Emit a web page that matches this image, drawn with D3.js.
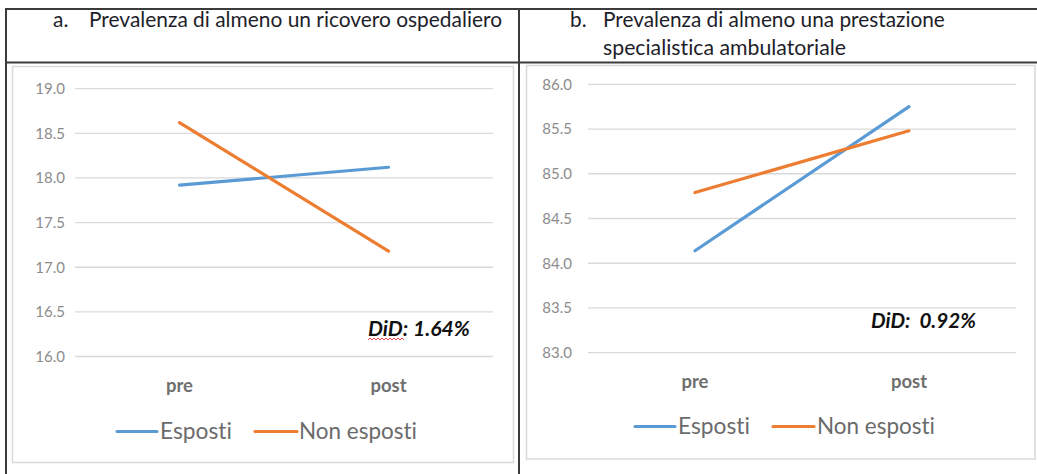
<!DOCTYPE html>
<html>
<head>
<meta charset="utf-8">
<script src="https://cdn.jsdelivr.net/npm/d3@7"></script>
<style>
  html, body { margin: 0; padding: 0; background: #fff; }
  svg { display: block; font-family: Lato, "Open Sans", sans-serif; font-variant-ligatures: none; }
</style>
</head>
<body>
<svg id="chart" width="1037" height="474"></svg>
<script>
// Categories and series
const categories = ["pre", "post"];
const seriesNames = ["Esposti", "Non esposti"];
const seriesColors = ["#5b9bd5", "#ed7d31"];

// a. hospital admissions (%)
const ricoveroEsposti = [17.92, 18.12];
const ricoveroNonEsposti = [18.62, 17.18];
const ricoveroTicks = [16.0, 16.5, 17.0, 17.5, 18.0, 18.5, 19.0];

// b. outpatient specialist services (%)
const ambulatorialeEsposti = [84.14, 85.75];
const ambulatorialeNonEsposti = [84.79, 85.48];
const ambulatorialeTicks = [83.0, 83.5, 84.0, 84.5, 85.0, 85.5, 86.0];

// Panel headings and difference-in-differences notes
const panelLetters = ["a.", "b."];
const panelTitles = [
  ["Prevalenza di almeno un ricovero ospedaliero"],
  ["Prevalenza di almeno una prestazione", "specialistica ambulatoriale"]
];
const didLabels = ["DiD: 1.64%", "DiD:  0.92%"];

const svg = d3.select("#chart");

// Scale a text element's font size so it spans the given width
function fitWidth(sel, w) {
  const node = sel.node();
  const size = parseFloat(sel.attr("font-size"));
  const cur = node.getComputedTextLength();
  if (cur > 0) sel.attr("font-size", (size * w / cur).toFixed(2));
  return sel;
}

// ---- table frame ----
const tableColor = "#3b3b3b";
const tbl = svg.append("g").attr("stroke", tableColor).attr("stroke-width", 2);
tbl.append("line").attr("x1", 5).attr("x2", 1037).attr("y1", 9).attr("y2", 9);
tbl.append("line").attr("x1", 5).attr("x2", 1037).attr("y1", 62.5).attr("y2", 62.5);
tbl.append("line").attr("x1", 6).attr("x2", 6).attr("y1", 8).attr("y2", 474);
tbl.append("line").attr("x1", 519).attr("x2", 519).attr("y1", 8).attr("y2", 474);

// ---- panel layouts ----
const panels = [
  {
    frame: [12.5, 66.5, 513.5, 462.5],
    plotX: [75, 493], plotY: [356.5, 88.7],
    domain: [16, 19], ticks: ricoveroTicks,
    tickEnd: 65,
    series: [ricoveroEsposti, ricoveroNonEsposti],
    letterX: 53, titleX: 89, titleW: [413], titleY: [27],
    catY: 392,
    legendY: 431.5, legend: [[117, 157, 160, 72], [255, 297, 299, 118]],
    did: { x: 368, y: 336, w: 102 },
    squiggle: [368, 405, 339]
  },
  {
    frame: [526.5, 65.5, 1035, 459],
    plotX: [588, 1016], plotY: [352.7, 84.3],
    domain: [83, 86], ticks: ambulatorialeTicks,
    tickEnd: 572,
    series: [ambulatorialeEsposti, ambulatorialeNonEsposti],
    letterX: 570, titleX: 603, titleW: [342, 243], titleY: [27, 55],
    catY: 388,
    legendY: 426.5, legend: [[635, 675, 678, 72], [773, 814, 817, 118]],
    did: { x: 871, y: 327.5, w: 105 },
    squiggle: null
  }
];

panels.forEach((p, i) => {
  const g = svg.append("g");

  // heading
  const letter = g.append("text")
    .attr("x", p.letterX).attr("y", p.titleY[0])
    .attr("font-size", 16).attr("fill", "#1e1e2a")
    .text(panelLetters[i]);
  let headSize = 16;
  panelTitles[i].forEach((line, k) => {
    const t = g.append("text")
      .attr("x", p.titleX).attr("y", p.titleY[k])
      .attr("font-size", 16).attr("fill", "#1e1e2a")
      .text(line);
    fitWidth(t, p.titleW[k]);
    if (k === 0) headSize = t.attr("font-size");
  });
  letter.attr("font-size", headSize);

  // chart area border
  const [fx0, fy0, fx1, fy1] = p.frame;
  g.append("rect")
    .attr("x", fx0).attr("y", fy0)
    .attr("width", fx1 - fx0).attr("height", fy1 - fy0)
    .attr("fill", "#fff").attr("stroke", "#d9d9d9").attr("stroke-width", 1.5);

  const x = d3.scalePoint().domain(categories).range(p.plotX).padding(0.5);
  const y = d3.scaleLinear().domain(p.domain).range(p.plotY);

  // horizontal gridlines
  g.append("g").selectAll("line").data(p.ticks).join("line")
    .attr("x1", p.plotX[0]).attr("x2", p.plotX[1])
    .attr("y1", d => y(d)).attr("y2", d => y(d))
    .attr("stroke", "#d9d9d9").attr("stroke-width", 1.3);

  // value axis labels
  const yAxis = g.append("g")
    .attr("transform", `translate(${p.plotX[0]},0)`)
    .call(d3.axisLeft(y).tickValues(p.ticks).tickFormat(d3.format(".1f"))
      .tickSize(0).tickPadding(p.plotX[0] - p.tickEnd));
  yAxis.select(".domain").remove();
  yAxis.selectAll("text")
    .attr("font-family", "Lato, sans-serif")
    .attr("font-size", 15).attr("fill", "#8c8c8c");

  // category labels
  g.append("g").selectAll("text").data(categories).join("text")
    .attr("x", d => x(d)).attr("y", p.catY)
    .attr("text-anchor", "middle")
    .attr("font-size", 18.5).attr("font-weight", "bold").attr("fill", "#6f6f6f")
    .text(d => d);

  // series lines
  const line = d3.line().x((d, j) => x(categories[j])).y(d => y(d));
  p.series.forEach((vals, s) => {
    g.append("path")
      .datum(vals)
      .attr("d", line)
      .attr("fill", "none")
      .attr("stroke", seriesColors[s])
      .attr("stroke-width", 3.2)
      .attr("stroke-linecap", "round");
  });

  // DiD note
  const did = g.append("text")
    .attr("x", p.did.x).attr("y", p.did.y)
    .attr("font-size", 16).attr("font-weight", "bold").attr("font-style", "italic")
    .attr("fill", "#111").attr("xml:space", "preserve")
    .style("white-space", "pre")
    .text(didLabels[i]);
  fitWidth(did, p.did.w);

  if (p.squiggle) {
    const [sx0, sx1, sy] = p.squiggle;
    const pts = d3.range(sx0, sx1 + 0.1, 2).map((xx, k) => [xx, sy + (k % 2 ? -1 : 1)]);
    g.append("path")
      .attr("d", d3.line()(pts))
      .attr("fill", "none").attr("stroke", "#e03030").attr("stroke-width", 0.9);
  }

  // legend
  p.legend.forEach(([lx0, lx1, tx, tw], s) => {
    g.append("line")
      .attr("x1", lx0).attr("x2", lx1)
      .attr("y1", p.legendY).attr("y2", p.legendY)
      .attr("stroke", seriesColors[s]).attr("stroke-width", 3.2)
      .attr("stroke-linecap", "round");
    const t = g.append("text")
      .attr("x", tx).attr("y", p.legendY)
      .attr("dy", "0.35em")
      .attr("font-size", 19).attr("fill", "#6b6b6b")
      .text(seriesNames[s]);
    fitWidth(t, tw);
  });
});
</script>
</body>
</html>
